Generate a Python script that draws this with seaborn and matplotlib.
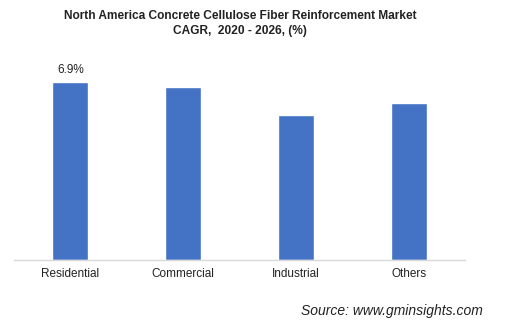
import matplotlib
matplotlib.use("Agg")
import matplotlib.pyplot as plt
import seaborn as sns
import pandas as pd

categories = ["Residential", "Commercial", "Industrial", "Others"]
values = [6.9, 6.7, 5.6, 6.1]
label_text = "6.9%"

sns.set_theme(style="white")
plt.rcParams['font.family'] = ['Liberation Sans', 'DejaVu Sans']

df = pd.DataFrame({"cat": categories, "val": values})

fig = plt.figure(figsize=(5.08, 3.30), dpi=100)
ax = fig.add_axes([14/508, 70/330, 451/508, 200/330])
sns.barplot(data=df, x="cat", y="val", color="#4472C4", saturation=1, width=0.32, ax=ax)
ax.set_ylim(0, 7.75)
ax.set_xlim(-0.5, 3.5)
ax.set_xlabel("")
ax.set_ylabel("")
ax.set_yticks([])
for s in ["top", "right", "left"]:
    ax.spines[s].set_visible(False)
ax.spines["bottom"].set_color("#d9d9d9")
ax.spines["bottom"].set_linewidth(1)
ax.tick_params(axis="x", length=0, pad=6, labelsize=8.5, colors="#222222")

ax.annotate(label_text, xy=(0, values[0]), xytext=(0, 4), textcoords="offset points",
            ha="center", va="bottom", fontsize=8.5, color="#222222")

fig.text(240/508, 1 - 10/330, "North America Concrete Cellulose Fiber Reinforcement Market\nCAGR,  2020 - 2026, (%)",
         ha="center", va="top", fontsize=8.6, fontweight="bold", color="#222222", linespacing=1.3)
fig.text(483/508, 1 - 311/330, "Source: www.gminsights.com", ha="right", va="center",
         fontsize=10, style="italic", color="#222222")

fig.savefig("out.png", dpi=100)
